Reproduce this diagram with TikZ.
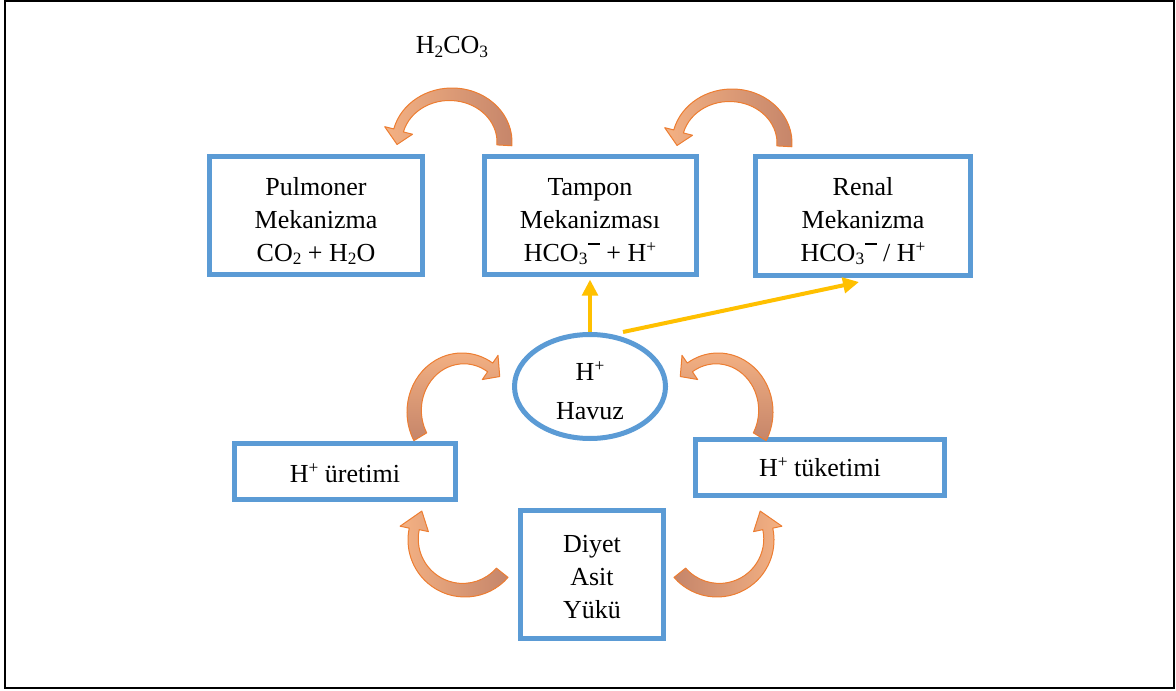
\documentclass[tikz,border=0pt]{standalone}
\usepackage{fontspec}
\setmainfont{Liberation Serif}
\usetikzlibrary{calc,arrows.meta,shapes.geometric}
\definecolor{boxblue}{HTML}{5B9BD5}
\definecolor{clight}{HTML}{F4B183}
\definecolor{cdark}{HTML}{C5856A}
\definecolor{cline}{HTML}{ED7D31}
\definecolor{yel}{HTML}{FFC000}
\newcommand\sps[1]{\raisebox{0.33em}{\fontsize{13}{13}\selectfont #1}}
\newcommand\sbs[1]{\raisebox{-0.14em}{\fontsize{13}{13}\selectfont #1}}
\newcommand\mbar{\hspace{0.03em}\rule[0.62em]{0.45em}{0.06em}}
\newcommand\dn{\rule{0pt}{21pt}}
% curved block arrow: #1 cx, #2 cy, #3 start angle, #4 end angle, #5 tip delta, #6 rx, #7 ry, #8 width, #9 shading
% inner centre shifted by (\tdx,\tdy) for a taper
\newcommand\carr[9]{%
  \pgfmathsetmacro\rxi{#6-#8}\pgfmathsetmacro\ryi{#7-#8}%
  \pgfmathsetmacro\rxo{#6+0.75*#8}\pgfmathsetmacro\ryo{#7+0.75*#8}%
  \pgfmathsetmacro\rxh{#6-1.75*#8}\pgfmathsetmacro\ryh{#7-1.75*#8}%
  \pgfmathsetmacro\rxm{#6-0.5*#8}\pgfmathsetmacro\rym{#7-0.5*#8}%
  \pgfmathsetmacro\at{#4+#5}%
  \pgfmathsetmacro\icx{#1+\tdx}\pgfmathsetmacro\icy{#2+\tdy}%
  \pgfmathsetmacro\mcx{#1+0.5*\tdx}\pgfmathsetmacro\mcy{#2+0.5*\tdy}%
  \path[carrow,#9] ({#1+#6*cos(#3)},{#2+#7*sin(#3)})
    arc[start angle=#3,end angle=#4,x radius=#6,y radius=#7]
    -- ({#1+\rxo*cos(#4)},{#2+\ryo*sin(#4)})
    -- ({\mcx+\rxm*cos(\at)},{\mcy+\rym*sin(\at)})
    -- ({\icx+\rxh*cos(#4)},{\icy+\ryh*sin(#4)})
    -- ({\icx+\rxi*cos(#4)},{\icy+\ryi*sin(#4)})
    arc[start angle=#4,end angle=#3,x radius=\rxi,y radius=\ryi] -- cycle;}
\tikzset{
  bx/.style={draw=boxblue, line width=3.75pt, fill=white, align=center, inner sep=0pt,
    font=\fontsize{19.5}{24.75}\selectfont},
  txt/.style={font=\fontsize{19.5}{24.75}\selectfont, inner sep=0pt},
  carrow/.style={draw=cline, line width=0.75pt, line join=round},
  yarrow/.style={draw=yel, line width=3pt, -{Triangle[length=12pt,width=11.5pt]}},
}
\begin{document}
\begin{tikzpicture}[x=0.75pt,y=-0.75pt]
\useasboundingbox (0,0) rectangle (1176,691);
\draw[line width=1.5pt] (4.5,1.2) rectangle (1174,688);

\node[bx, minimum width=159.75pt, minimum height=88.5pt] (pulm) at (316,216)
  {\dn Pulmoner\\Mekanizma\\CO\sbs{2} + H\sbs{2}O};
\node[bx, minimum width=159pt, minimum height=88.5pt] (tamp) at (590,216)
  {\dn Tampon\\Mekanizması\\HCO\sbs{3}\mbar{} + H\sps{+}};
\node[bx, minimum width=161.25pt, minimum height=89.25pt] (renal) at (863,216)
  {\dn Renal\\Mekanizma\\HCO\sbs{3}\mbar{} / H\sps{+}};
\node[bx, ellipse, minimum width=113.25pt, minimum height=78pt] (pool) at (590,386.5)
  {\rule{0pt}{20.5pt}H\sps{+}\\[5pt]Havuz};
\node[bx, minimum width=165.75pt, minimum height=42pt] (uret) at (345,471.5)
  {\rule{0pt}{16pt}H\sps{+} üretimi};
\node[bx, minimum width=186.75pt, minimum height=42pt] (tuket) at (820,467.5)
  {H\sps{+} tüketimi};
\node[bx, minimum width=107.25pt, minimum height=96pt] (diyet) at (592,574)
  {\rule{0pt}{17pt}Diyet\\Asit\\Yükü};
\node[txt, anchor=base] (h2co3) at (452,54) {H\sbs{2}CO\sbs{3}};

% yellow arrows
\coordinate (ystart) at (623,332);
\coordinate (rtip) at (859,282);
\draw[yarrow, shorten >=1.5pt] (pool.north) -- (tamp.south);
\draw[yarrow] (ystart) -- (rtip);

% curved arrows
\def\tdx{-2.5}\def\tdy{0}
\carr{452}{142}{4}{-166}{-17}{60}{54}{12.5}{left color=clight,right color=cdark}
\carr{732}{143}{4}{-166}{-17}{60}{54}{12.5}{left color=clight,right color=cdark}
\def\tdx{1.85}\def\tdy{-1.7}
\carr{462}{412}{151}{304}{15}{55}{59}{12.5}{shading angle=45,top color=clight,bottom color=cdark}
\def\tdx{-1.85}\def\tdy{-1.7}
\carr{718}{412}{29}{-124}{-15}{55}{59}{12.5}{shading angle=-45,top color=clight,bottom color=cdark}
\def\tdx{-2.25}\def\tdy{-1.1}
\carr{465}{540}{41}{192}{22}{57}{57}{12.5}{left color=clight,right color=cdark}
\def\tdx{2.25}\def\tdy{-1.1}
\carr{717}{540}{139}{-12}{-22}{57}{57}{12.5}{left color=cdark,right color=clight}
\end{tikzpicture}
\end{document}
